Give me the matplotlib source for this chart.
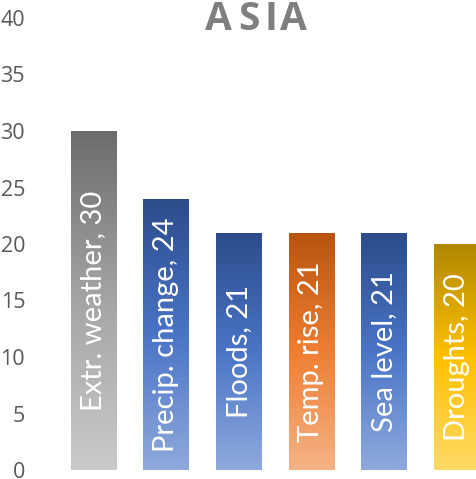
import matplotlib.pyplot as plt
import numpy as np
from matplotlib.colors import LinearSegmentedColormap

# 데이터
categories = ["Extr. weather", "Precip. change", "Floods", "Temp. rise", "Sea level", "Droughts"]
values = [30, 24, 21, 21, 21, 20]
color_groups = ["gray", "blue", "blue", "orange", "blue", "gold"]
title = "ASIA"

# 그라데이션 (위 -> 가운데 -> 아래)
gradients = {
    "gray": ["#6c6c6c", "#a5a5a5", "#cacaca"],
    "blue": ["#2c4c8a", "#4a74c6", "#8faadc"],
    "orange": ["#b8540f", "#ee7e32", "#f5b386"],
    "gold": ["#b08700", "#ffc000", "#ffda66"],
}

fig = plt.figure(figsize=(4.77, 4.79), dpi=100)
ax = fig.add_axes([57 / 477, 9 / 479, 436 / 477, 452 / 479])

x = np.arange(len(categories))
bars = ax.bar(x, values, width=0.62, facecolor="none", edgecolor="none")

grad = np.linspace(1, 0, 256).reshape(-1, 1)
for bar, grp, cat, val in zip(bars, color_groups, categories, values):
    cmap = LinearSegmentedColormap.from_list(grp, gradients[grp][::-1])
    x0, y0 = bar.get_x(), bar.get_y()
    w, h = bar.get_width(), bar.get_height()
    img = ax.imshow(grad, cmap=cmap, vmin=0, vmax=1, aspect="auto",
                    extent=[x0, x0 + w, y0, y0 + h], origin="upper", zorder=1)
    img.set_clip_path(bar)
    ax.text(x0 + w / 2, h / 2, f"{cat}, {val}", rotation=90, ha="center", va="center",
            color="white", fontsize=21, family="Lato", zorder=3)

ax.set_xlim(-0.5, len(categories) - 0.5)
ax.set_ylim(0, 40)
ax.set_yticks(range(0, 41, 5))
ax.set_xticks([])
ax.tick_params(axis="y", length=0, pad=23, labelsize=15.5, labelcolor="#595959")
for lbl in ax.get_yticklabels():
    lbl.set_family("Open Sans")
for s in ax.spines.values():
    s.set_visible(False)

# 제목 (자간 넓게)
title_x = [218, 248.5, 270.5, 293.5]
for ch, px in zip(title, title_x):
    fig.text(px / 477, 1 - 20 / 479, ch, ha="center", va="center", fontsize=28,
             fontweight="bold", color="#7f7f7f", family="Open Sans")

fig.savefig("out.png", dpi=100)
